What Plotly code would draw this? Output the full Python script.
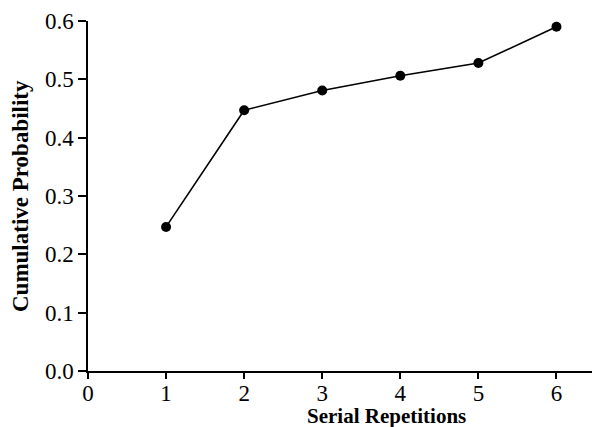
import plotly.graph_objects as go

reps = [1, 2, 3, 4, 5, 6]
cum_prob = [0.247, 0.447, 0.481, 0.506, 0.528, 0.590]
x_ticks = [0, 1, 2, 3, 4, 5, 6]
y_ticks = [0.0, 0.1, 0.2, 0.3, 0.4, 0.5, 0.6]

serif = "Liberation Serif, Times New Roman, serif"

fig = go.Figure()
fig.add_trace(go.Scatter(
    x=reps, y=cum_prob, mode="lines+markers",
    line=dict(color="black", width=1.6),
    marker=dict(color="black", size=10),
    cliponaxis=False, showlegend=False,
))

fig.update_layout(
    width=600, height=427,
    margin=dict(l=80, r=0, t=13, b=64, autoexpand=False),
    paper_bgcolor="white", plot_bgcolor="white",
    font=dict(family=serif, color="black", size=18),
    xaxis=dict(
        range=[0, 6.66], tickvals=x_ticks, ticktext=[str(v) for v in x_ticks],
        showline=True, linecolor="black", linewidth=2,
        ticks="outside", ticklen=6, tickwidth=1.5, tickcolor="black",
        showgrid=False, zeroline=False, automargin=False,
        tickfont=dict(family=serif, size=23), ticklabeloverflow="allow",
        ticklabelstandoff=-6,
    ),
    yaxis=dict(
        range=[0, 0.6], tickvals=y_ticks, ticktext=[f"{v:.1f}" for v in y_ticks],
        showline=True, linecolor="black", linewidth=1.5,
        ticks="outside", ticklen=8, tickwidth=1.5, tickcolor="black",
        showgrid=False, zeroline=False, automargin=False,
        tickfont=dict(family=serif, size=23), ticklabeloverflow="allow",
    ),
    annotations=[
        dict(
            text="<b>Serial Repetitions</b>", x=3.82, y=0, xref="x", yref="paper",
            yshift=-45, xanchor="center", yanchor="middle", showarrow=False,
            font=dict(family=serif, size=21, color="black"),
        ),
        dict(
            text="<b>Cumulative Probability</b>", x=0, y=0.5, xref="paper", yref="paper",
            xshift=-68, xanchor="center", yanchor="middle", showarrow=False, textangle=-90,
            font=dict(family=serif, size=23, color="black"),
        ),
    ],
)

fig.write_html("out.html")
